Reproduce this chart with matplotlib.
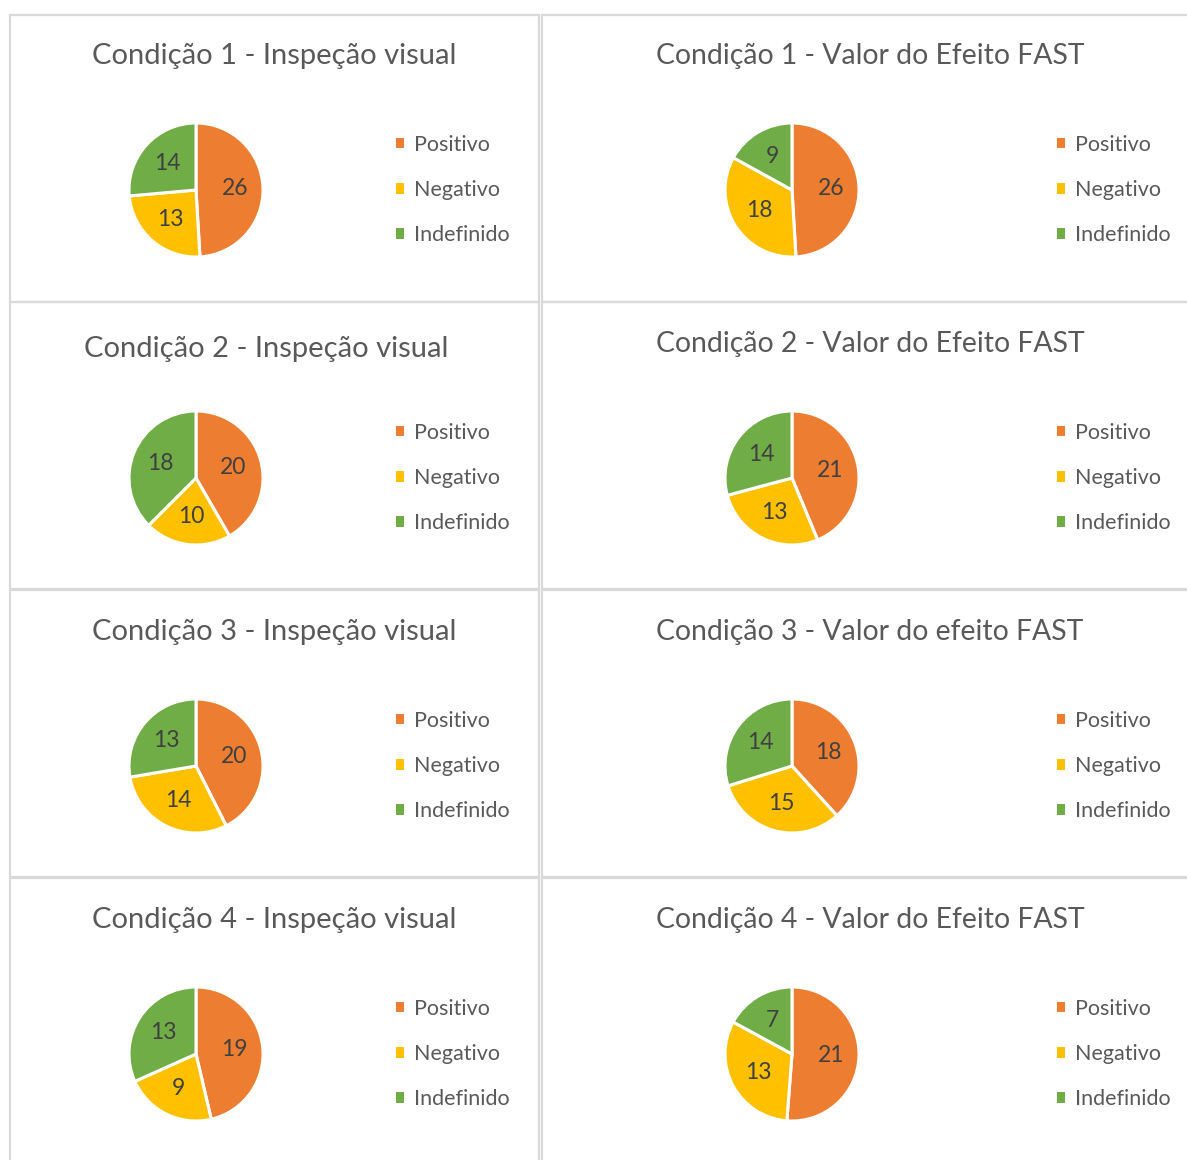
import matplotlib
matplotlib.use('Agg')
import matplotlib.pyplot as plt
from matplotlib.patches import Patch, Rectangle

# data
categorias = ['Positivo', 'Negativo', 'Indefinido']
cores = ['#ED7D31', '#FFC000', '#70AD47']

titulos_iv = ['Condição 1 - Inspeção visual', 'Condição 2 - Inspeção visual',
              'Condição 3 - Inspeção visual', 'Condição 4 - Inspeção visual']
titulos_fast = ['Condição 1 - Valor do Efeito FAST', 'Condição 2 - Valor do Efeito FAST',
                'Condição 3 - Valor do efeito FAST', 'Condição 4 - Valor do Efeito FAST']

inspecao_visual = [[26, 13, 14],
                   [20, 10, 18],
                   [20, 14, 13],
                   [19, 9, 13]]
efeito_fast = [[26, 18, 9],
               [21, 13, 14],
               [18, 15, 14],
               [21, 13, 7]]

W, H = 1187, 1160
plt.rcParams['font.family'] = ['Lato', 'DejaVu Sans']
fig = plt.figure(figsize=(W / 100, H / 100), dpi=100)

def fx(x):
    return x / W

def fy(y):
    return 1 - y / H

# panel frames (pixels, top-left origin)
row_top = [15, 302, 590, 878]
row_h = 287
for top in row_top:
    for left, width in [(10, 529), (542, 700)]:
        fig.patches.append(Rectangle((fx(left), fy(top + row_h)), width / W, row_h / H,
                                     transform=fig.transFigure, facecolor='none',
                                     edgecolor='#D9D9D9', linewidth=1.6))

def draw_panel(valores, titulo, cx, cy, tx, ty, lx, tsize):
    r = 67
    ax = fig.add_axes([fx(cx - r), fy(cy + r), 2 * r / W, 2 * r / H])
    total = sum(valores)
    ax.pie(valores, colors=cores, startangle=90, counterclock=False,
           wedgeprops=dict(edgecolor='white', linewidth=2.2),
           autopct=lambda p: '%d' % round(p * total / 100), pctdistance=0.58,
           textprops=dict(color='#404040', fontsize=16.5))
    ax.set_xlim(-1.0, 1.0)
    ax.set_ylim(-1.0, 1.0)
    fig.text(fx(tx), fy(ty), titulo, ha='center', va='center', fontsize=tsize, color='#595959')
    handles = [Patch(facecolor=c, edgecolor='none') for c in cores]
    fig.legend(handles=handles, labels=categorias, loc='center left',
               bbox_to_anchor=(fx(lx), fy(cy)), frameon=False, borderpad=0,
               borderaxespad=0, handlelength=0.38, handleheight=0.38,
               handletextpad=0.45, labelspacing=1.18, fontsize=15.5, labelcolor='#595959')

title_y_iv = [56, 349, 632, 920]
title_y_fast = [56, 344, 632, 920]
pie_y = [190, 478, 766, 1054]
title_x_iv = [274, 266, 274, 274]

for i in range(4):
    draw_panel(inspecao_visual[i], titulos_iv[i], 196, pie_y[i], title_x_iv[i], title_y_iv[i], 396, 21)
    draw_panel(efeito_fast[i], titulos_fast[i], 792, pie_y[i], 870, title_y_fast[i], 1057, 20.4)

fig.savefig('out.png', dpi=100, facecolor='white')
